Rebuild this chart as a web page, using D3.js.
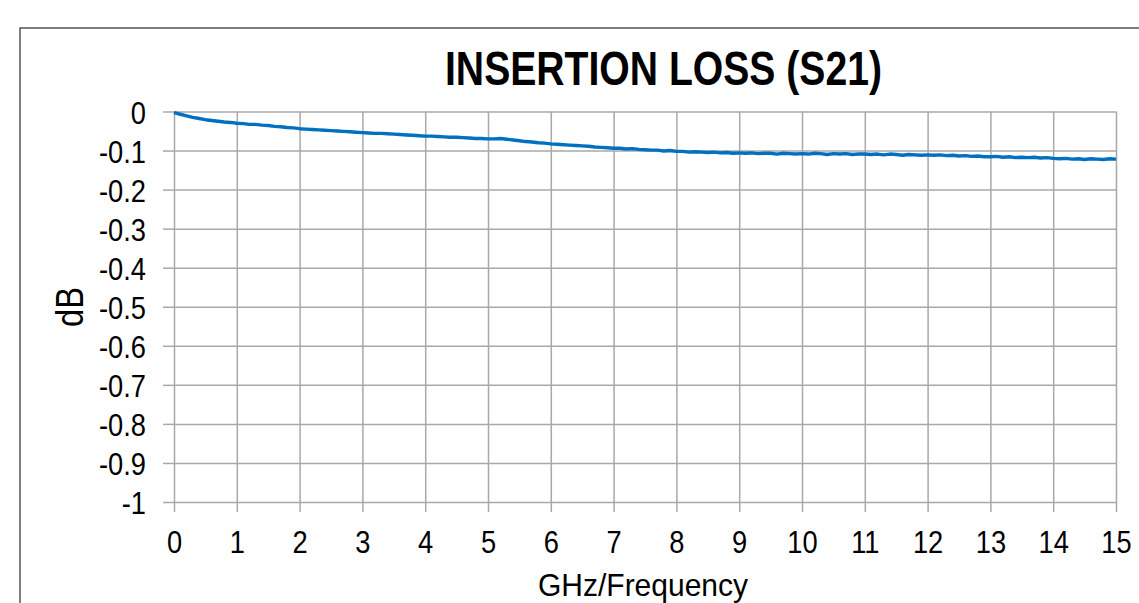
<!DOCTYPE html>
<html>
<head>
<meta charset="utf-8">
<script src="https://cdn.jsdelivr.net/npm/d3@7"></script>
<style>
  body { margin: 0; background: #fff; }
  text { font-family: "Liberation Sans", Arial, sans-serif; fill: #000; }
</style>
</head>
<body>
<svg id="chart" width="1139" height="603"></svg>
<script>
// frequency steps (GHz), 0.1 apart
var freq = d3.range(151).map(i => i / 10);

// insertion loss, dB
var loss = [
  -0.003, -0.007, -0.011, -0.015, -0.018, -0.021, -0.023, -0.025, -0.027, -0.028, -0.030,
  -0.031, -0.033, -0.033, -0.035, -0.036, -0.038, -0.039, -0.041, -0.042, -0.044,
  -0.045, -0.046, -0.047, -0.048, -0.049, -0.050, -0.051, -0.052, -0.053, -0.054,
  -0.055, -0.056, -0.056, -0.057, -0.058, -0.059, -0.060, -0.061, -0.062, -0.063,
  -0.063, -0.064, -0.065, -0.066, -0.066, -0.067, -0.068, -0.069, -0.069, -0.070,
  -0.070, -0.069, -0.071, -0.073, -0.075, -0.077, -0.078, -0.080, -0.081, -0.083,
  -0.084, -0.085, -0.086, -0.087, -0.088, -0.089, -0.091, -0.092, -0.093, -0.094,
  -0.094, -0.096, -0.095, -0.097, -0.098, -0.099, -0.099, -0.101, -0.100, -0.102,
  -0.102, -0.104, -0.103, -0.104, -0.105, -0.104, -0.106, -0.105, -0.107, -0.106,
  -0.107, -0.106, -0.108, -0.107, -0.107, -0.109, -0.107, -0.108, -0.109, -0.108,
  -0.109, -0.107, -0.108, -0.110, -0.108, -0.109, -0.108, -0.110, -0.109, -0.109,
  -0.110, -0.109, -0.111, -0.109, -0.110, -0.112, -0.110, -0.111, -0.112, -0.111,
  -0.112, -0.111, -0.113, -0.112, -0.114, -0.113, -0.115, -0.114, -0.116, -0.116,
  -0.115, -0.117, -0.116, -0.118, -0.117, -0.118, -0.117, -0.119, -0.118, -0.120,
  -0.121, -0.120, -0.122, -0.121, -0.123, -0.121, -0.122, -0.123, -0.121, -0.122
];

var xTicks = d3.range(0, 16);
var yTicks = [0, -0.1, -0.2, -0.3, -0.4, -0.5, -0.6, -0.7, -0.8, -0.9, -1];

var title = "INSERTION LOSS (S21)";
var xTitle = "GHz/Frequency";
var yTitle = "dB";

var svg = d3.select('#chart');
var plotL = 174, plotR = 1116, plotT = 111.5, plotB = 502;
var gray = "#a8a8a8";

// outer chart frame (runs off the picture)
svg.append('rect')
    .attr('x', 20).attr('y', 28)
    .attr('width', 1200).attr('height', 700)
    .attr('fill', 'none')
    .attr('stroke', '#3a3a3a')
    .attr('stroke-width', 1.3);

var x = d3.scaleLinear().domain([0, 15]).range([plotL, plotR]);
var y = d3.scaleLinear().domain([-1, 0]).range([plotB, plotT]);

// grid
svg.append('g')
    .attr('transform', `translate(0,${plotB})`)
    .call(d3.axisBottom(x).tickValues(xTicks).tickSize(-(plotB - plotT)).tickFormat(''))
    .call(g => g.select('.domain').remove())
    .call(g => g.selectAll('line').attr('stroke', gray).attr('stroke-width', 1.5));

svg.append('g')
    .attr('transform', `translate(${plotL},0)`)
    .call(d3.axisLeft(y).tickValues(yTicks).tickSize(-(plotR - plotL)).tickFormat(''))
    .call(g => g.select('.domain').remove())
    .call(g => g.selectAll('line').attr('stroke', gray).attr('stroke-width', 1.5));

// axes with outside ticks and labels
var xAxis = svg.append('g')
    .attr('transform', `translate(0,${plotB})`)
    .call(d3.axisBottom(x).tickValues(xTicks).tickSize(10).tickFormat(d3.format('d')))
    .call(g => g.select('.domain').remove());
xAxis.selectAll('line').attr('stroke', gray).attr('stroke-width', 1.5);
xAxis.selectAll('text')
    .attr('y', 0).attr('dy', 0)
    .attr('transform', 'translate(0,50.5) scale(0.88,1.03)')
    .style('font-size', '31px')
    .attr('fill', '#000');

var yAxis = svg.append('g')
    .attr('transform', `translate(${plotL},0)`)
    .call(d3.axisLeft(y).tickValues(yTicks).tickSize(11).tickFormat(d => String(d)))
    .call(g => g.select('.domain').remove());
yAxis.selectAll('line').attr('stroke', gray).attr('stroke-width', 1.5);
yAxis.selectAll('text')
    .attr('x', 0).attr('dy', '0.36em')
    .attr('transform', 'translate(-28,0) scale(0.88,1.03)')
    .style('font-size', '31px')
    .attr('fill', '#000');

// the trace
var line = d3.line()
    .x((d, i) => x(freq[i]))
    .y(d => y(d));

svg.append('path')
    .datum(loss)
    .attr('d', line)
    .attr('fill', 'none')
    .attr('stroke', '#0070c0')
    .attr('stroke-width', 3.4)
    .attr('stroke-linejoin', 'round');

// titles
svg.append('text')
    .attr('x', 445).attr('y', 85)
    .attr('textLength', 437)
    .attr('lengthAdjust', 'spacingAndGlyphs')
    .style('font-size', '49px')
    .style('font-weight', 'bold')
    .text(title);

svg.append('text')
    .attr('x', 538).attr('y', 596)
    .attr('textLength', 210)
    .attr('lengthAdjust', 'spacingAndGlyphs')
    .style('font-size', '32px')
    .text(xTitle);

svg.append('text')
    .attr('transform', 'translate(83,327) rotate(-90)')
    .attr('textLength', 40)
    .attr('lengthAdjust', 'spacingAndGlyphs')
    .style('font-size', '38px')
    .text(yTitle);
</script>
</body>
</html>
